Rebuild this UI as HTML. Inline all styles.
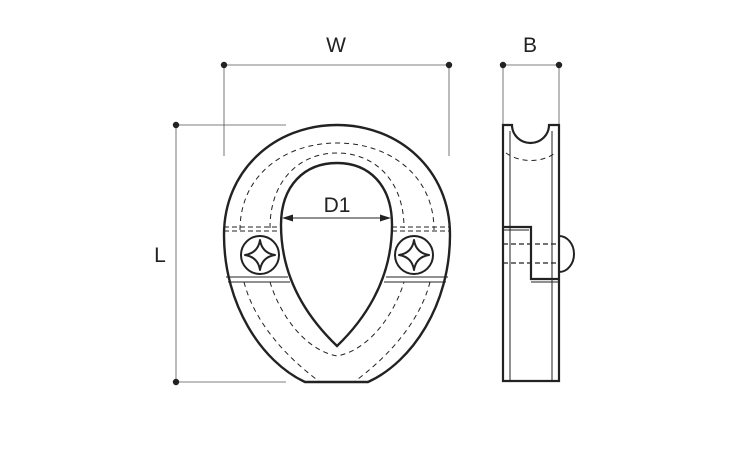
<!DOCTYPE html>
<html><head><meta charset="utf-8"><style>
html,body{margin:0;padding:0;background:#fff;}
svg{display:block;}
text{font-family:"Liberation Sans",sans-serif;fill:#222;}
</style></head><body>
<svg width="750" height="450" viewBox="0 0 750 450" xmlns="http://www.w3.org/2000/svg">
<g stroke="#555" stroke-width="0.8" fill="none">
  <line x1="224" y1="65" x2="449" y2="65"/>
  <line x1="224" y1="65" x2="224" y2="156"/>
  <line x1="449" y1="65" x2="449" y2="156"/>
  <line x1="503" y1="65" x2="559" y2="65"/>
  <line x1="503" y1="65" x2="503" y2="125"/>
  <line x1="559" y1="65" x2="559" y2="125"/>
  <line x1="176" y1="125" x2="176" y2="382"/>
  <line x1="176" y1="125" x2="286" y2="125"/>
  <line x1="176" y1="382" x2="286" y2="382"/>
</g>
<g fill="#222">
  <circle cx="224" cy="65" r="3.2"/><circle cx="449" cy="65" r="3.2"/>
  <circle cx="503" cy="65" r="3.2"/><circle cx="559" cy="65" r="3.2"/>
  <circle cx="176" cy="125" r="3.2"/><circle cx="176" cy="382" r="3.2"/>
</g>
<text x="336" y="52" font-size="21" text-anchor="middle">W</text>
<text x="530" y="52" font-size="21" text-anchor="middle">B</text>
<text x="160" y="262" font-size="21" text-anchor="middle">L</text>

<!-- front view -->
<g fill="none" stroke="#222">
  <path d="M305,382 C262,362 224,305 224,235 C224,170 275,125 337,125 C399,125 450,170 450,235 C450,305 412,362 368,382 Z" fill="#fff" stroke-width="2.4"/>
  <path d="M240,230 C240,175 285,143 337,143 C389,143 434,175 434,230 M244,282 C255,325 290,360 320,382 M430,282 C419,325 384,360 354,382" stroke-width="1" stroke-dasharray="5,4"/>
  <path d="M270,228 C270,180 300,153 337,153 C374,153 404,180 404,228 M270,282 C280,315 305,350 337,356 C369,350 394,315 404,282" stroke-width="1" stroke-dasharray="5,4"/>
  <line x1="224" y1="227" x2="282" y2="227" stroke-width="1" stroke-dasharray="5,3"/>
  <line x1="224" y1="231" x2="282" y2="231" stroke-width="1" stroke-dasharray="5,3"/>
  <line x1="392" y1="227" x2="450" y2="227" stroke-width="1" stroke-dasharray="5,3"/>
  <line x1="392" y1="231" x2="450" y2="231" stroke-width="1" stroke-dasharray="5,3"/>
  <line x1="226" y1="277" x2="288" y2="277" stroke-width="0.9"/>
  <line x1="228" y1="282" x2="290" y2="282" stroke-width="0.9"/>
  <line x1="386" y1="277" x2="448" y2="277" stroke-width="0.9"/>
  <line x1="384" y1="282" x2="446" y2="282" stroke-width="0.9"/>
  <path d="M337,346 C312,322 281,282 281,225 C281,185 305,163 337,163 C369,163 392,185 392,225 C392,282 362,322 337,346 Z" fill="#fff" stroke-width="2.4"/>
  <line x1="284" y1="218" x2="389" y2="218" stroke-width="1"/>
  <circle cx="260" cy="255" r="19" fill="#fff" stroke-width="2"/>
  <circle cx="414" cy="255" r="19" fill="#fff" stroke-width="2"/>
  <path d="M260,240 Q262,253 275,255 Q262,257 260,270 Q258,257 245,255 Q258,253 260,240 Z" stroke-width="2" stroke-linejoin="round"/>
  <path d="M414,240 Q416,253 429,255 Q416,257 414,270 Q412,257 399,255 Q412,253 414,240 Z" stroke-width="2" stroke-linejoin="round"/>
</g>
<path d="M282,218 l11,-3.5 v7 z M391,218 l-11,-3.5 v7 z" fill="#222"/>
<text x="337" y="212" font-size="21" text-anchor="middle">D1</text>

<!-- side view -->
<g fill="none" stroke="#222">
  <path d="M503,125 H512 A18.5,18 0 0 0 549,125 H559 V381 H503 Z" fill="#fff" stroke-width="2.2"/>
  <line x1="510" y1="131" x2="510" y2="381" stroke-width="1"/>
  <line x1="552" y1="131" x2="552" y2="381" stroke-width="1"/>
  <path d="M506,153 C520,163 542,163 555,153" stroke-width="1" stroke-dasharray="5,4"/>
  <path d="M503,227 H531 V279 H559" stroke-width="2.2"/>
  <line x1="503" y1="230" x2="529" y2="230" stroke-width="1"/>
  <line x1="531" y1="282" x2="559" y2="282" stroke-width="1"/>
  <line x1="503" y1="244" x2="559" y2="244" stroke-width="1.2" stroke-dasharray="5,3"/>
  <line x1="503" y1="263" x2="559" y2="263" stroke-width="1.2" stroke-dasharray="5,3"/>
  <path d="M559,236 A15,18 0 0 1 559,272" stroke-width="2"/>
</g>
</svg>
</body></html>
